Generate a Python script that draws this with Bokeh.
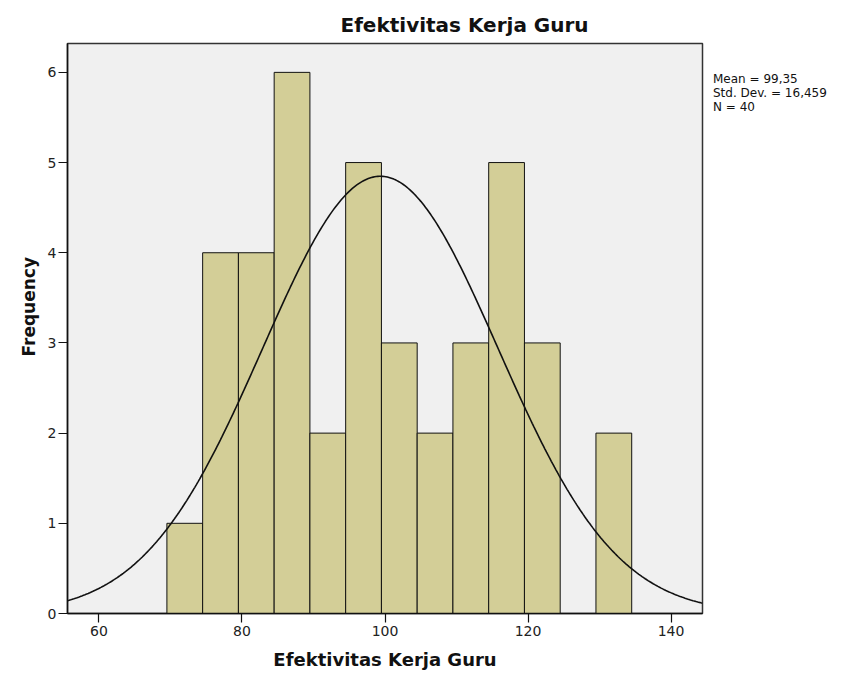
import numpy as np
from bokeh.plotting import figure
from bokeh.layouts import row
from bokeh.models import Range1d, FixedTicker, ColumnDataSource, Div, Title
from bokeh.embed import file_html
from bokeh.resources import INLINE

# ---- data ----
bin_centers = [72, 77, 82, 87, 92, 97, 102, 107, 112, 117, 122, 127, 132]
frequencies = [1, 4, 4, 6, 2, 5, 3, 2, 3, 5, 3, 0, 2]
bin_width = 5
mean_value = 99.35
std_dev = 16.459
n_count = 40
x_ticks = [60, 80, 100, 120, 140]
y_ticks = [0, 1, 2, 3, 4, 5, 6]
title_text = "Efektivitas Kerja Guru"
x_label_text = "Efektivitas Kerja Guru"
y_label_text = "Frequency"
stats_lines = ["Mean = 99,35", "Std. Dev. = 16,459", "N = 40"]

FONT = "DejaVu Sans"

p = figure(width=710, height=673, output_backend="svg", toolbar_location=None,
           title=title_text,
           x_range=Range1d(55.6, 144.4), y_range=Range1d(0, 6.32),
           min_border_left=67, min_border_right=8, min_border_top=43, min_border_bottom=60)
p.title.text_font = FONT
p.title.text_font_style = "bold"
p.title.text_font_size = "20px"
p.title.text_color = "#111111"
p.title.align = "left"
p.title.offset = 273
p.title.standoff = 14

p.background_fill_color = "#f0f0f0"
p.border_fill_color = "white"
p.outline_line_color = "#333333"
p.outline_line_width = 1.5
p.xgrid.visible = False
p.ygrid.visible = False

src = ColumnDataSource(dict(x=bin_centers, top=frequencies))
p.vbar(x="x", top="top", bottom=0, width=bin_width, source=src,
       fill_color="#d3ce97", line_color="#111111", line_width=1)

# fitted normal curve from the reported statistics
xs = np.linspace(55.6, 144.4, 400)
ys = n_count * bin_width / (std_dev * np.sqrt(2 * np.pi)) * np.exp(-0.5 * ((xs - mean_value) / std_dev) ** 2)
p.line(xs, ys, line_color="#111111", line_width=1.6)

for ax, ticks in ((p.xaxis[0], x_ticks), (p.yaxis[0], y_ticks)):
    ax.ticker = FixedTicker(ticks=ticks)
    ax.minor_tick_line_color = None
    ax.major_tick_in = 0
    ax.major_tick_out = 9
    ax.major_tick_line_color = "#111111"
    ax.major_tick_line_width = 1.2
    ax.axis_line_color = "#111111"
    ax.axis_line_width = 1.5
    ax.major_label_text_font = FONT
    ax.major_label_text_font_size = "14px"
    ax.major_label_text_color = "#222222"
    ax.axis_label_text_font = FONT
    ax.axis_label_text_font_style = "bold"
    ax.axis_label_text_color = "#111111"

p.xaxis.major_label_standoff = 3
p.yaxis.major_label_standoff = 2
p.xaxis.axis_label = x_label_text
p.xaxis.axis_label_text_font_size = "18px"
p.xaxis.axis_label_standoff = 10

# y-axis label as a side title so it can sit slightly above the frame centre
p.add_layout(Title(text=y_label_text, align="left", offset=257, standoff=12,
                   text_font=FONT, text_font_style="bold", text_font_size="17px",
                   text_color="#111111"), "left")

stats_html = "<br>".join(stats_lines)
div = Div(text=f'<div style="font-family:\'DejaVu Sans\';font-size:12px;line-height:14px;'
               f'color:#111111;padding-top:72px;padding-left:3px;white-space:nowrap;">{stats_html}</div>',
          width=140, height=200, margin=0)

layout = row(p, div)
open("out.html", "w").write(file_html(layout, INLINE))
